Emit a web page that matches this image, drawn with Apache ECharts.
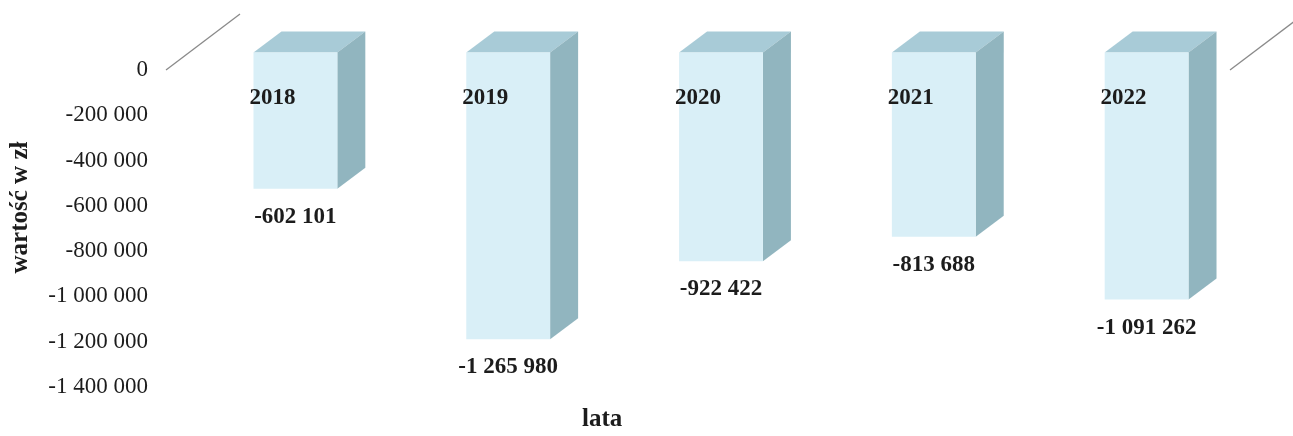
<!DOCTYPE html>
<html>
<head>
<meta charset="utf-8">
<title>wartość w zł</title>
<script src="https://cdn.jsdelivr.net/npm/echarts@6/dist/echarts.min.js"></script>
<style>
  html, body { margin: 0; padding: 0; background: #ffffff; }
  #chart { width: 1293px; height: 436px; }
</style>
</head>
<body>
<div id="chart"></div>
<script>
// Years and yearly values (zł)
const years = ['2018', '2019', '2020', '2021', '2022'];
const values = [-602101, -1265980, -922422, -813688, -1091262];

// Value axis ticks
const yMin = -1400000;
const yMax = 0;
const yStep = 200000;

const FONT = '"Liberation Serif", "Times New Roman", serif';
const TEXT = '#1c1c1c';

// 3D look: box depth and where the bar sits inside the category depth
const DEPTH_X = 28, DEPTH_Y = -21;     // bar depth
const SHIFT_X = 23, SHIFT_Y = -17.5;   // front face pushed back from front plane
const FLOOR_X = 74, FLOOR_Y = -56;     // full depth of the zero plane
const BAR_RATIO = 0.394;

const COL_FRONT = '#d9eff7';
const COL_TOP = '#a8cbd7';
const COL_SIDE = '#91b5bf';

function fmt(v) {
  const s = Math.abs(Math.round(v)).toString().replace(/\B(?=(\d{3})+(?!\d))/g, ' ');
  return (v < 0 ? '-' : '') + s;
}

const chart = echarts.init(document.getElementById('chart'), null, { renderer: 'canvas' });

function renderBox(params, api) {
  const idx = api.value(0);
  const val = api.value(1);
  const zero = api.coord([idx, 0]);
  const end = api.coord([idx, val]);
  const w = api.size([1, 0])[0] * BAR_RATIO;
  const x0 = zero[0] + SHIFT_X - w / 2;
  const x1 = x0 + w;
  const yt = zero[1] + SHIFT_Y;
  const yb = end[1] + SHIFT_Y;
  return {
    type: 'group',
    children: [
      {
        type: 'polygon',
        shape: { points: [[x0, yt], [x1, yt], [x1 + DEPTH_X, yt + DEPTH_Y], [x0 + DEPTH_X, yt + DEPTH_Y]] },
        style: { fill: COL_TOP }
      },
      {
        type: 'polygon',
        shape: { points: [[x1, yt], [x1 + DEPTH_X, yt + DEPTH_Y], [x1 + DEPTH_X, yb + DEPTH_Y], [x1, yb]] },
        style: { fill: COL_SIDE }
      },
      {
        type: 'rect',
        shape: { x: x0, y: yt, width: w, height: yb - yt },
        style: { fill: COL_FRONT }
      },
      {
        type: 'text',
        style: {
          text: fmt(val),
          x: x0 + w / 2,
          y: yb + 28,
          align: 'center',
          verticalAlign: 'middle',
          font: 'bold 23px ' + FONT,
          fill: TEXT
        }
      }
    ]
  };
}

function renderFloor(params, api) {
  const cs = params.coordSys;
  const zeroY = api.coord([0, 0])[1];
  const left = cs.x, right = cs.x + cs.width;
  const st = { stroke: '#8a8a8a', lineWidth: 1.3 };
  return {
    type: 'group',
    children: [
      { type: 'line', shape: { x1: left, y1: zeroY, x2: left + FLOOR_X, y2: zeroY + FLOOR_Y }, style: st },
      { type: 'line', shape: { x1: right, y1: zeroY, x2: right + FLOOR_X, y2: zeroY + FLOOR_Y }, style: st }
    ]
  };
}

chart.setOption({
  animation: false,
  backgroundColor: '#ffffff',
  title: {
    text: 'lata',
    left: 582,
    top: 407,
    padding: 0,
    textStyle: { fontFamily: FONT, fontWeight: 'bold', fontSize: 25, color: TEXT }
  },
  grid: { left: 165, right: 63, top: 70, bottom: 49, containLabel: false },
  xAxis: {
    type: 'category',
    data: years,
    position: 'top',
    z: 10,
    axisLine: { show: false },
    axisTick: { show: false },
    splitLine: { show: false },
    axisLabel: {
      inside: true,
      margin: 17,
      fontFamily: FONT,
      fontWeight: 'bold',
      fontSize: 23,
      color: TEXT
    }
  },
  yAxis: {
    type: 'value',
    min: yMin,
    max: yMax,
    interval: yStep,
    name: 'wartość w zł',
    nameLocation: 'middle',
    nameGap: 133,
    nameRotate: 90,
    nameTextStyle: {
      fontFamily: FONT,
      fontWeight: 'bold',
      fontSize: 25,
      color: TEXT,
      padding: [0, 0, 0, 42]
    },
    axisLine: { show: false },
    axisTick: { show: false },
    splitLine: { show: false },
    axisLabel: {
      margin: 18,
      fontFamily: FONT,
      fontSize: 23,
      color: TEXT,
      formatter: fmt
    }
  },
  series: [
    {
      type: 'custom',
      name: 'floor',
      clip: false,
      silent: true,
      data: [[0, 0]],
      renderItem: renderFloor,
      z: 1
    },
    {
      type: 'custom',
      name: 'wartość',
      clip: false,
      data: years.map((y, i) => [i, values[i]]),
      encode: { x: 0, y: 1 },
      renderItem: renderBox,
      z: 2
    }
  ]
});
</script>
</body>
</html>
